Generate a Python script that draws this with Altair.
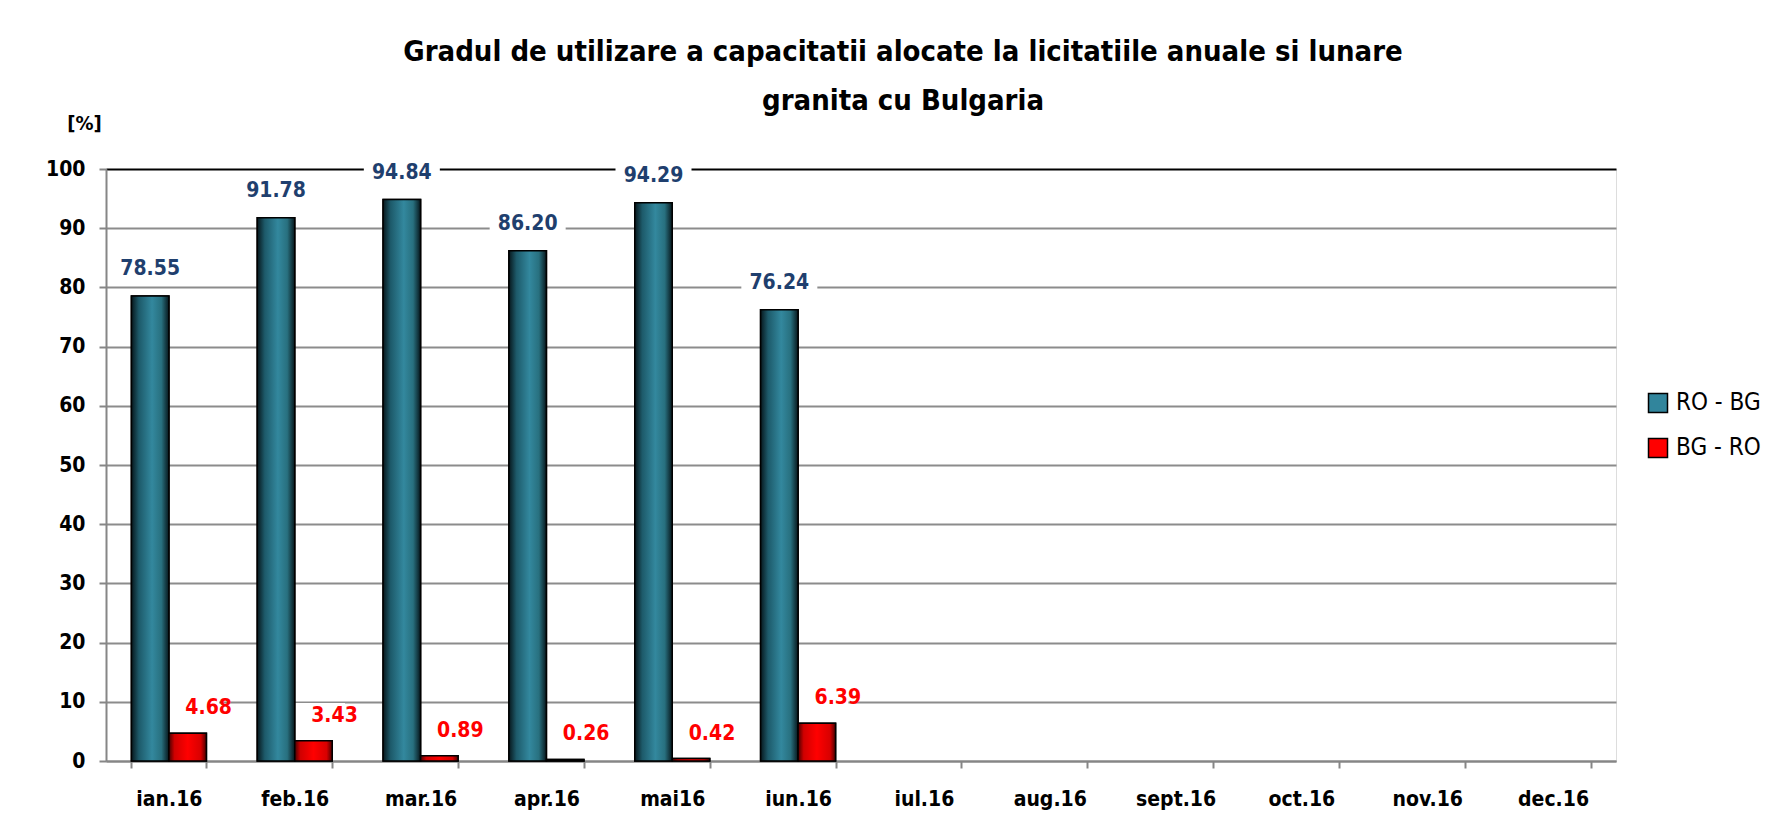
import altair as alt
import pandas as pd

months = ["ian.16", "feb.16", "mar.16", "apr.16", "mai16", "iun.16",
          "iul.16", "aug.16", "sept.16", "oct.16", "nov.16", "dec.16"]
series_names = ["RO - BG", "BG - RO"]
ro_bg = [78.55, 91.78, 94.84, 86.20, 94.29, 76.24, None, None, None, None, None, None]
bg_ro = [4.68, 3.43, 0.89, 0.26, 0.42, 6.39, None, None, None, None, None, None]
y_ticks = [0, 10, 20, 30, 40, 50, 60, 70, 80, 90, 100]

rows = []
for m, a, b in zip(months, ro_bg, bg_ro):
    rows.append({"month": m, "series": series_names[0], "value": a})
    rows.append({"month": m, "series": series_names[1], "value": b})
df = pd.DataFrame(rows)

FONT = "Liberation Sans Narrow, Arial Narrow, DejaVu Sans Condensed, sans-serif"
GRAY = "#868686"

teal_grad = alt.Gradient(
    gradient="linear", x1=0, x2=1, y1=0, y2=0,
    stops=[alt.GradientStop(color="#07171c", offset=0),
           alt.GradientStop(color="#1d5a6a", offset=0.2),
           alt.GradientStop(color="#33889e", offset=0.55),
           alt.GradientStop(color="#28707f", offset=0.8),
           alt.GradientStop(color="#07171c", offset=1)])
red_grad = alt.Gradient(
    gradient="linear", x1=0, x2=1, y1=0, y2=0,
    stops=[alt.GradientStop(color="#4a0000", offset=0),
           alt.GradientStop(color="#d00000", offset=0.15),
           alt.GradientStop(color="#ff0000", offset=0.5),
           alt.GradientStop(color="#d80000", offset=0.85),
           alt.GradientStop(color="#4a0000", offset=1)])

grid_color = {"condition": {"test": "datum.value === 100", "value": "black"},
              "value": "#8c8c8c"}

base = alt.Chart(df).transform_filter("isValid(datum.value)").encode(
    x=alt.X("month:N", sort=months,
            scale=alt.Scale(domain=months, paddingInner=0.404, paddingOuter=0.202),
            axis=alt.Axis(title=None, labelAngle=0, tickBand="extent", ticks=True,
                          tickSize=7, tickColor=GRAY, tickWidth=2,
                          domainColor=GRAY, domainWidth=2, grid=False,
                          labelFont=FONT, labelFontSize=21, labelFontWeight="bold",
                          labelColor="black", labelPadding=20)),
    xOffset=alt.XOffset("series:N", scale=alt.Scale(domain=series_names)),
    y=alt.Y("value:Q", scale=alt.Scale(domain=[0, 100], nice=False),
            axis=alt.Axis(values=y_ticks, grid=True, gridColor=grid_color, gridWidth=2,
                          domainColor=GRAY, domainWidth=2, tickColor=GRAY, tickWidth=2,
                          tickSize=7, labelFont=FONT, labelFontSize=21,
                          labelFontWeight="bold", labelColor="black", labelPadding=14,
                          title="[%]", titleAngle=0, titleX=-22, titleY=-46,
                          titleAlign="center", titleBaseline="middle",
                          titleFont=FONT, titleFontSize=20, titleFontWeight="bold",
                          titleColor="black")),
)

is_a = alt.datum.series == series_names[0]
is_b = alt.datum.series == series_names[1]

box_a = base.transform_filter(is_a).mark_point(
    shape="M-1,-0.33H1V0.33H-1Z", size=76 * 76, filled=True, fill="white",
    opacity=1, strokeWidth=0, yOffset=-27)
box_b = base.transform_filter(is_b).mark_point(
    shape="M-1,-0.4H1V0.4H-1Z", size=63 * 63, filled=True, fill="white",
    opacity=1, strokeWidth=0, yOffset=-25, xOffset=21)

legend_bars = base.mark_bar(stroke="black", strokeWidth=1.5).encode(
    color=alt.Color("series:N",
                    scale=alt.Scale(domain=series_names, range=["#31859C", "#FF0000"]),
                    legend=alt.Legend(orient="none", legendX=1540, legendY=222,
                                      title=None, symbolType="square", symbolSize=361,
                                      symbolStrokeColor="black", symbolStrokeWidth=1.5,
                                      labelFont=FONT, labelFontSize=24,
                                      labelColor="black", rowPadding=19,
                                      labelOffset=6)))
bars_a = base.transform_filter(is_a).mark_bar(fill=teal_grad, stroke="black", strokeWidth=1.5)
bars_b = base.transform_filter(is_b).mark_bar(fill=red_grad, stroke="black", strokeWidth=1.5)

text_a = base.transform_filter(is_a).mark_text(
    font=FONT, fontSize=21, fontWeight="bold", color="#1F3F6E",
    baseline="middle", dy=-27).encode(text=alt.Text("value:Q", format=".2f"))
text_b = base.transform_filter(is_b).mark_text(
    font=FONT, fontSize=21, fontWeight="bold", color="#FF0000",
    baseline="middle", dy=-25, dx=21).encode(text=alt.Text("value:Q", format=".2f"))

chart = alt.layer(box_a, box_b, legend_bars, bars_a, bars_b, text_a, text_b).properties(
    width=1510, height=592,
    title=alt.Title(["Gradul de utilizare a capacitatii alocate la licitatiile anuale si lunare",
                     "granita cu Bulgaria"],
                    font=FONT, fontSize=29, fontWeight="bold", color="black",
                    anchor="middle", dx=42, offset=-3, lineHeight=49),
    autosize=alt.AutoSizeParams(type="none"),
    padding={"left": 98, "top": 161, "right": 158, "bottom": 66},
).configure_view(stroke="black", strokeWidth=2).configure(background="white")

chart.save("out.html", embed_options={"renderer": "svg", "actions": False})
